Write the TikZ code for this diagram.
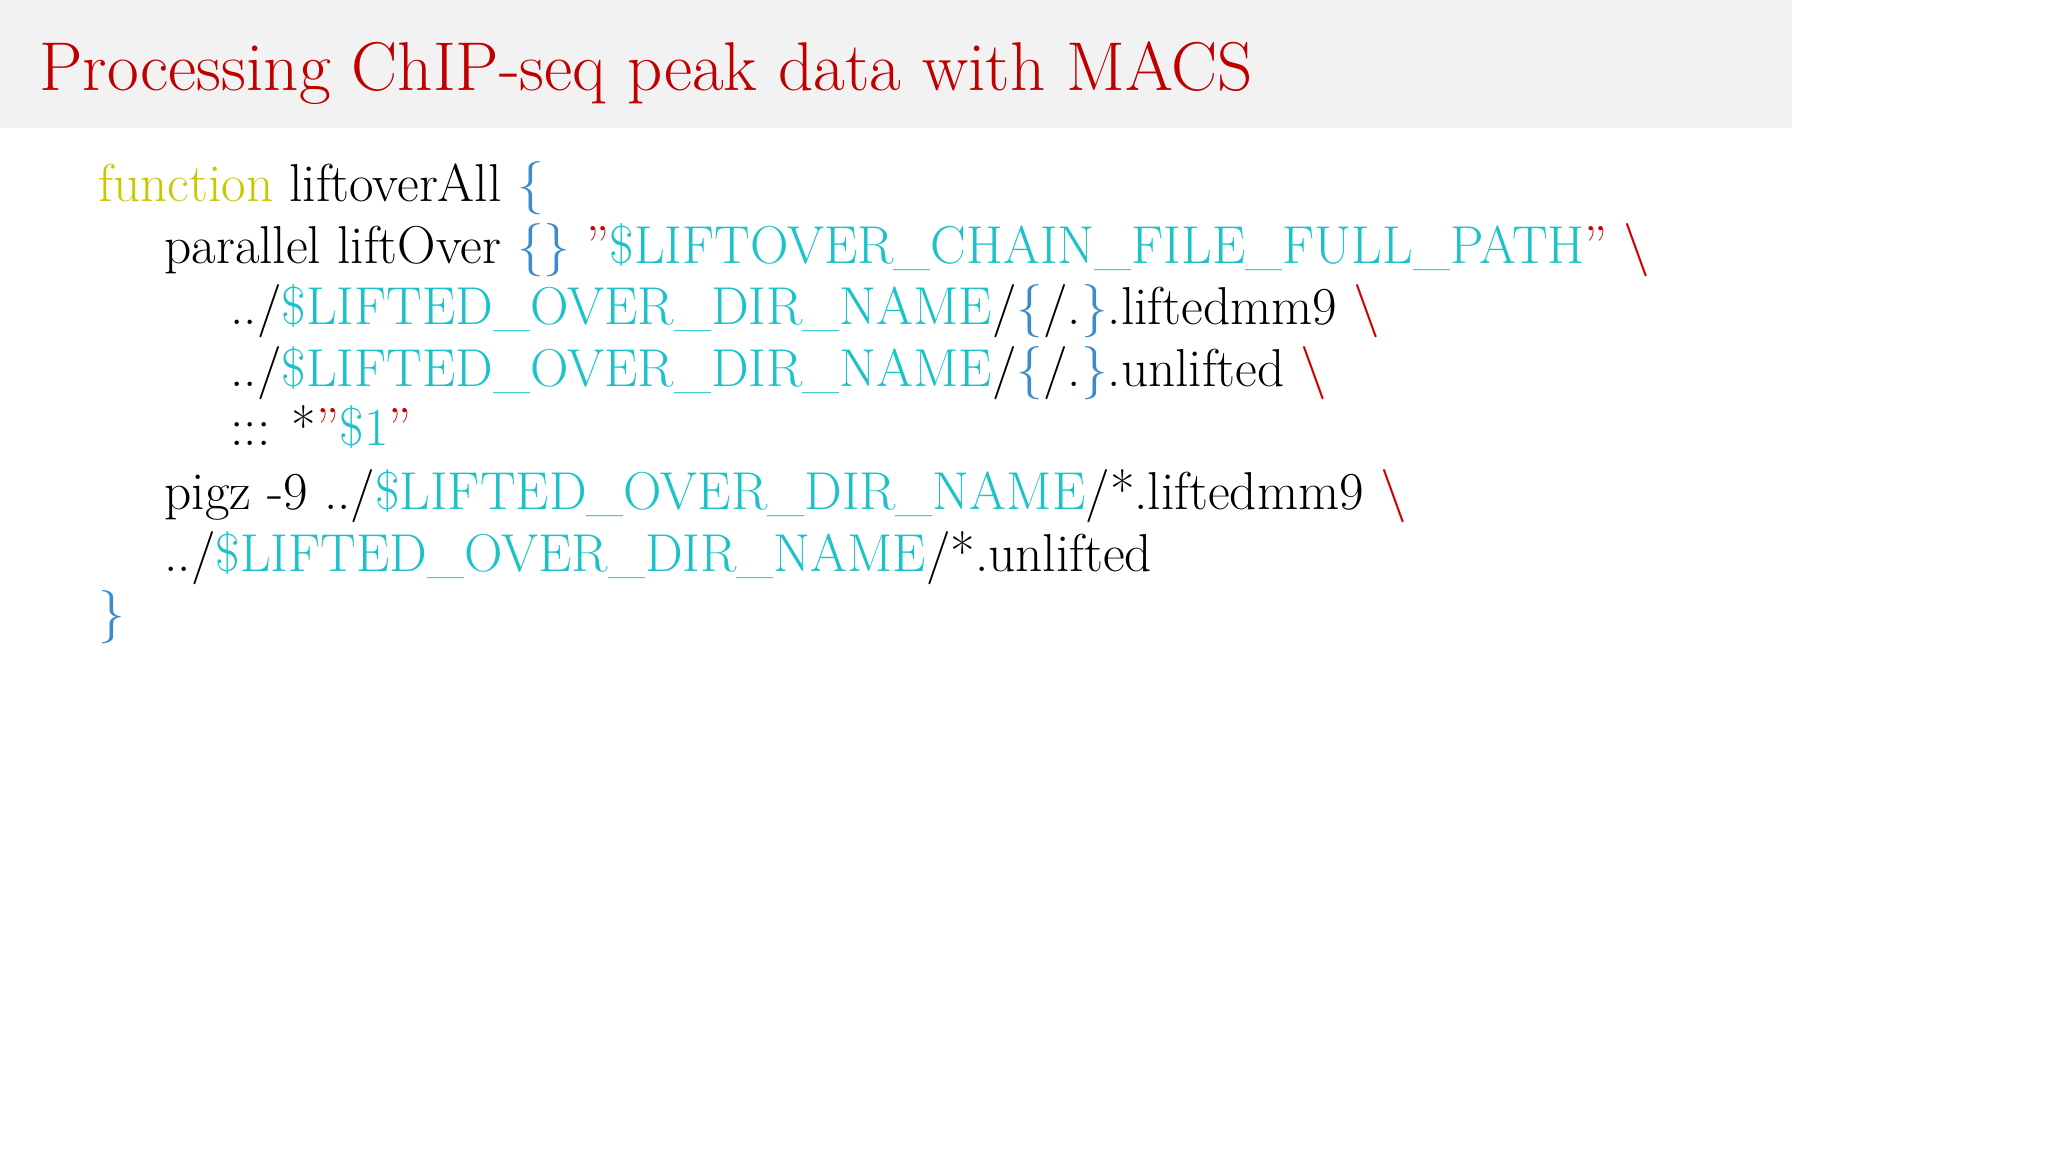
\documentclass[tikz,border=0pt]{standalone}
\usepackage{fontspec}
\definecolor{titlered}{HTML}{C00000}
\definecolor{kw}{HTML}{C8C800}
\definecolor{cy}{HTML}{1BC3C9}
\definecolor{br}{HTML}{3C8CCC}
\definecolor{rd}{HTML}{CC0000}
\definecolor{bar}{HTML}{F2F2F2}
\newcommand{\K}[1]{\textcolor{kw}{#1}}
\newcommand{\C}[1]{\textcolor{cy}{#1}}
\newcommand{\B}[1]{\textcolor{br}{#1}}
\newcommand{\R}[1]{\textcolor{rd}{#1}}
\begin{document}
\begin{tikzpicture}[x=0.375pt,y=-0.375pt,
  code/.style={anchor=base west,inner sep=0pt,font=\fontsize{20}{24}\selectfont}]
\useasboundingbox (0,0) rectangle (2048,1152);
\fill[bar] (0,0) rectangle (1792,128);
\node[anchor=base west,inner sep=0pt,text=titlered,font=\fontsize{25.9}{31}\selectfont] (title) at (39,90) {Processing ChIP-seq peak data with MACS};
\node[code] (l1) at (98,201) {\K{function} liftoverAll \B{\{}};
\node[code] (l2) at (164,263) {parallel liftOver \B{\{\}} \R{”}\C{\$LIFTOVER\_CHAIN\_FILE\_FULL\_PATH}\R{”} \R{\textbackslash}};
\node[code] (l3) at (230,324) {../\C{\$LIFTED\_OVER\_DIR\_NAME}/\B{\{}/.\B{\}}.liftedmm9 \R{\textbackslash}};
\node[code] (l4) at (230,386) {../\C{\$LIFTED\_OVER\_DIR\_NAME}/\B{\{}/.\B{\}}.unlifted \R{\textbackslash}};
\node[code] (l5) at (230,445) {::: *\R{”}\C{\$1}\R{”}};
\node[code] (l6) at (164,509) {pigz -9 ../\C{\$LIFTED\_OVER\_DIR\_NAME}/*.liftedmm9 \R{\textbackslash}};
\node[code] (l7) at (164,571) {../\C{\$LIFTED\_OVER\_DIR\_NAME}/*.unlifted};
\node[code] (l8) at (98,630) {\B{\}}};
\end{tikzpicture}
\end{document}
